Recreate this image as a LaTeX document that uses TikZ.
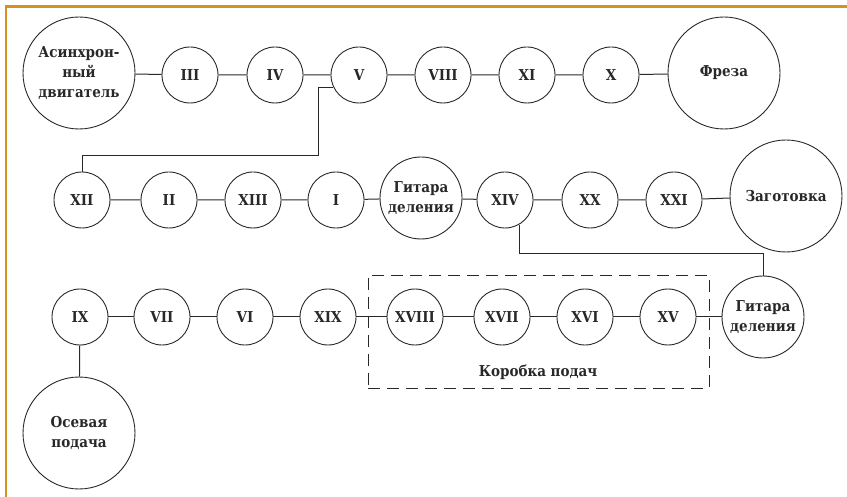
\documentclass[tikz,border=0pt]{standalone}
\usepackage{fontspec}
\newfontfamily\lblfont{DejaVu Serif Condensed}
\definecolor{frameorange}{RGB}{214,146,28}
\definecolor{ink}{RGB}{40,40,40}
\begin{document}
\begin{tikzpicture}[x=1pt,y=-1pt,
  every node/.style={text=ink},
  txt/.style={font=\lblfont\bfseries\fontsize{15}{20}\selectfont},
  sm/.style={circle, draw=ink, line width=0.9pt, minimum size=56pt, inner sep=0pt, txt},
  md/.style={circle, draw=ink, line width=0.9pt, minimum size=82pt, inner sep=0pt, align=center, txt},
  bg/.style={circle, draw=ink, line width=0.9pt, minimum size=112pt, inner sep=0pt, align=center, txt},
  conn/.style={draw=ink, line width=1pt},
  boxdash/.style={draw=ink, line width=0.9pt, dash pattern=on 12pt off 7pt}]
\useasboundingbox (0,0) rectangle (847,497);
\fill[white] (0,0) rectangle (847,497);
\draw[frameorange, line width=2.5pt] (6,497) -- (6,6.5) -- (847,6.5);
% row 1
\node[bg] (A) at (79,73) {Асинхрон-\\ный\\двигатель};
\node[sm] (III) at (190,75) {III};
\node[sm] (IV) at (275,75) {IV};
\node[sm] (V) at (359,75) {V};
\node[sm] (VIII) at (443,75) {VIII};
\node[sm] (XI) at (527,75) {XI};
\node[sm] (X) at (611,75) {X};
\node[bg] (F) at (724,73) {Фреза};
% row 2
\node[sm] (XII) at (82,200) {XII};
\node[sm] (II) at (169,200) {II};
\node[sm] (XIII) at (253,200) {XIII};
\node[sm] (I) at (336,200) {I};
\node[md] (G1) at (421,198) {Гитара\\деления};
\node[sm] (XIV) at (505,200) {XIV};
\node[sm] (XX) at (590,200) {XX};
\node[sm] (XXI) at (674,200) {XXI};
\node[bg] (Z) at (786,196) {Заготовка};
% row 3
\node[sm] (IX) at (80,317) {IX};
\node[sm] (VII) at (162,317) {VII};
\node[sm] (VI) at (245,317) {VI};
\node[sm] (XIX) at (328,317) {XIX};
\node[sm] (XVIII) at (415,317) {XVIII};
\node[sm] (XVII) at (502,317) {XVII};
\node[sm] (XVI) at (585,317) {XVI};
\node[sm] (XV) at (668,317) {XV};
\node[md] (G2) at (763,317) {Гитара\\деления};
\node[bg] (O) at (79,433) {Осевая\\подача};
% feed box
\node[boxdash, minimum width=341pt, minimum height=113pt, inner sep=0pt] (box) at (538.5,331.5) {};
\node[txt] (boxlbl) at (538,372) {Коробка подач};
% connectors
\draw[conn] (A) -- (III) -- (IV) -- (V) -- (VIII) -- (XI) -- (X) -- (F);
\draw[conn] (XII) -- (II) -- (XIII) -- (I) -- (G1) -- (XIV) -- (XX) -- (XXI) -- (Z);
\draw[conn] (IX) -- (VII) -- (VI) -- (XIX) -- (XVIII) -- (XVII) -- (XVI) -- (XV) -- (G2);
\draw[conn] (IX) -- (O);
\coordinate (c1) at (318,156);
\draw[conn] (V.205) -| (c1) -| (XII.north);
\coordinate (c2) at (763,254);
\draw[conn] (XIV.-60) |- (c2) -- (G2.north);
\end{tikzpicture}
\end{document}
